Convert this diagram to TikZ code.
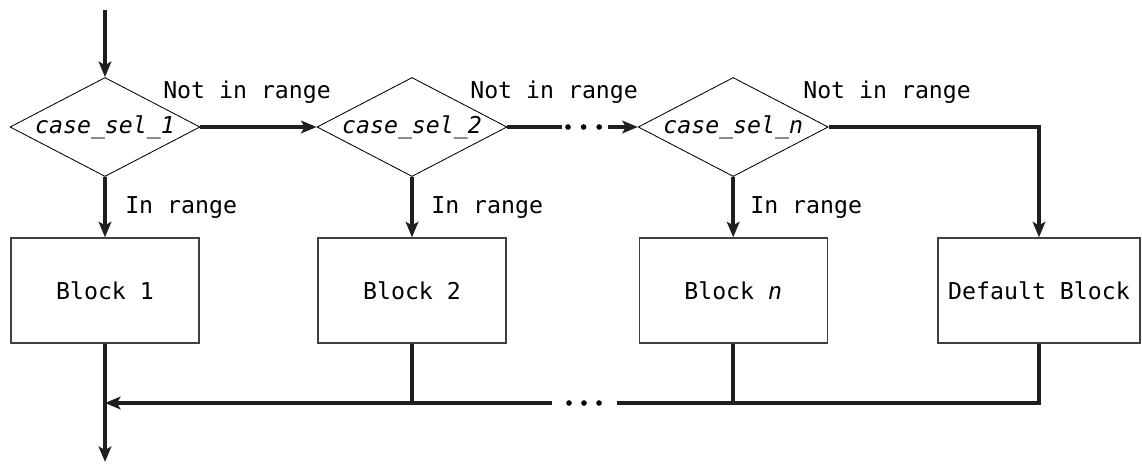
\documentclass[tikz,border=0pt]{standalone}
\usepackage{fontspec}
\setmonofont{DejaVu Sans Mono}[ItalicFont={DejaVu Sans Mono Oblique}]
\usetikzlibrary{positioning, shapes.geometric, arrows.meta}

\begin{document}
\begin{tikzpicture}[
		flow/.style={line width=2.6pt, draw=black!88},
		arr/.style={flow, -{Stealth[length=11pt, width=9pt, inset=2.5pt]}},
		dec/.style={diamond, aspect=1.92, draw, line width=0.6pt, minimum width=4.75cm, minimum height=2.475cm, inner sep=0pt, font=\ttfamily\itshape\fontsize{16.5}{18}\selectfont},
		blk/.style={rectangle, draw=black!75, line width=1pt, minimum width=4.7cm, minimum height=2.625cm, font=\ttfamily\fontsize{16.5}{18}\selectfont},
		lbl/.style={anchor=base west, inner sep=0pt, font=\ttfamily\fontsize{16.5}{18}\selectfont}
	]
		\useasboundingbox (0,0) rectangle (28.55,-11.575);
		
		% parameters
		\def\ydec{-3.175}  % row of the decisions
		\def\yblk{-7.2625} % row of the blocks
		\def\ymrg{-10.075} % merge line
		
		% decisions
		\node (d1) [dec] at (2.625,\ydec) {case\_sel\_1};
		\node (d2) [dec] at (10.3,\ydec) {case\_sel\_2};
		\node (dn) [dec] at (18.33,\ydec) {case\_sel\_n};
		
		% blocks
		\node (b1) [blk] at (2.625,\yblk) {Block 1};
		\node (b2) [blk] at (10.3,\yblk) {Block 2};
		\node (bn) [blk] at (18.33,\yblk) {Block \textit{n}};
		\node (bd) [blk, minimum width=5.05cm] at (25.975,\yblk) {Default Block};
		
		% labels
		\node (nr1) [lbl] at (4.075,-2.45) {Not in range};
		\node (nr2) [lbl] at (11.75,-2.45) {Not in range};
		\node (nrn) [lbl] at (20.075,-2.45) {Not in range};
		\node (ir1) [lbl] at (3.125,-5.325) {In range};
		\node (ir2) [lbl] at (10.775,-5.325) {In range};
		\node (irn) [lbl] at (18.75,-5.325) {In range};
		
		% free ends
		\coordinate (in) at (2.625,-0.25);
		\coordinate (out) at (2.625,-11.55);
		\coordinate (ga) at (14.05,\ydec);
		\coordinate (gb) at (15.2,\ydec);
		\coordinate (m1) at (2.625,\ymrg);
		\coordinate (m2) at (10.3,\ymrg);
		\coordinate (mn) at (18.33,\ymrg);
		\coordinate (md) at (25.975,\ymrg);
		\coordinate (ma) at (15.425,\ymrg);
		\coordinate (mb) at (13.8,\ymrg);
		
		% ---------------------- top row ----------------------
		\draw[arr] (in) -- (d1.north);
		\draw[arr] (d1.east) -- (d2.west);
		\draw[flow] (d2.east) -- (ga);
		\draw[arr] (gb) -- (dn.west);
		\draw[arr] (dn.east) -| (bd.north);
		\foreach \d/\b in {d1/b1, d2/b2, dn/bn} {
			\draw[arr] (\d.south) -- (\b.north);
		}
		
		% ---------------------- merge ----------------------
		\draw[flow] (bd.south) -- (md) -- (ma);
		\draw[arr] (mb) -- (m1);
		\draw[flow] (b2.south) -- (m2);
		\draw[flow] (bn.south) -- (mn);
		\draw[arr] (b1.south) -- (out);
		
		% dots in the gaps
		\foreach \x in {0,1,2} {
			\fill (14.2+0.39*\x,\ydec) circle (2pt);
			\fill (14.225+0.375*\x,\ymrg) circle (2pt);
		}
	\end{tikzpicture}
\end{document}
